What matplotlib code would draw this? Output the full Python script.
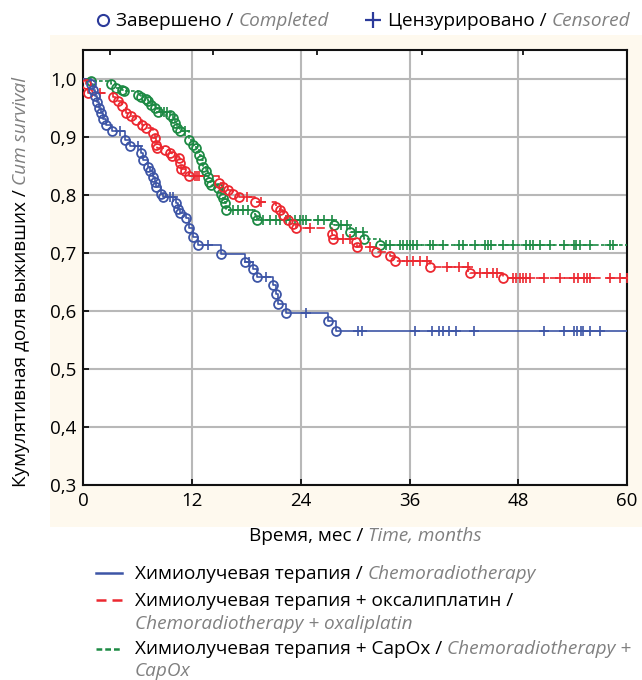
"""
Kaplan-Meier curves for three treatment groups (Cum survival vs months)
"""
import numpy as np
import matplotlib
matplotlib.use("Agg")
from matplotlib import pyplot as plt
from matplotlib.lines import Line2D
from matplotlib.patches import Rectangle

FONT = "Open Sans"
FS = 13.7
TICK_FS = 13.5
GREY = "#808080"
W, H = 642, 680

# --- data ------------------------------------------------------------------
x_ticks = [0, 12, 24, 36, 48, 60]
y_ticks = [0.3, 0.4, 0.5, 0.6, 0.7, 0.8, 0.9, 1.0]
y_tick_labels = ["0,3", "0,4", "0,5", "0,6", "0,7", "0,8", "0,9", "1,0"]

# Chemoradiotherapy
crt_event_t = [0.8, 1.1, 1.3, 1.5, 1.7, 1.9, 2.1, 2.5, 3.1, 4.6, 5.1, 6.4, 6.55, 7.1, 7.3, 7.65,
               7.85, 8.0, 8.6, 8.8, 10.2, 10.4, 10.6, 11.3, 11.7, 12.1, 12.6, 15.2, 17.8, 18.7,
               19.1, 20.9, 21.3, 21.5, 22.4, 27.0, 27.9]
crt_event_s = [0.99, 0.98, 0.97, 0.96, 0.95, 0.94, 0.93, 0.92, 0.909, 0.894, 0.883, 0.871, 0.86,
               0.848, 0.84, 0.831, 0.822, 0.814, 0.802, 0.796, 0.785, 0.776, 0.768, 0.759, 0.742,
               0.727, 0.713, 0.698, 0.684, 0.672, 0.658, 0.644, 0.629, 0.612, 0.597, 0.583, 0.566]
crt_censor = [4.0, 6.0, 9.6, 9.9, 13.7, 18.3, 20.2, 24.6, 30.3, 30.7, 36.6, 38.5, 39.3, 39.7,
              40.3, 41.1, 43.1, 50.8, 53.1, 54.1, 54.5, 54.9, 55.1, 55.9, 57.0]

# Chemoradiotherapy + oxaliplatin
oxa_event_t = [0.3, 0.5, 3.3, 3.8, 4.3, 4.7, 5.2, 5.8, 6.5, 6.9, 7.7, 7.85, 8.0, 8.1, 8.95, 9.5,
               9.8, 10.5, 10.6, 10.8, 11.2, 11.7, 15.0, 15.4, 15.9, 16.5, 17.2, 18.9, 21.3, 21.7,
               22.0, 22.6, 23.1, 23.5, 27.4, 27.5, 30.1, 30.2, 32.3, 33.8, 34.4, 38.2, 42.7, 46.3]
oxa_event_s = [0.99, 0.975, 0.969, 0.961, 0.952, 0.94, 0.935, 0.929, 0.92, 0.915, 0.906, 0.897,
               0.886, 0.88, 0.877, 0.871, 0.866, 0.863, 0.854, 0.845, 0.84, 0.832, 0.82, 0.814,
               0.808, 0.802, 0.796, 0.788, 0.779, 0.773, 0.765, 0.756, 0.749, 0.742, 0.733, 0.724,
               0.719, 0.71, 0.701, 0.694, 0.685, 0.676, 0.665, 0.656]
oxa_censor = [1.8, 12.3, 12.5, 12.7, 18.0, 19.6, 25.0, 28.7, 29.4, 31.6, 35.7, 36.4, 37.1, 37.9,
              40.1, 41.5, 42.5, 43.8, 44.5, 45.2, 45.6, 47.4, 47.8, 48.2, 48.5, 48.9, 49.3, 50.8,
              52.6, 54.1, 54.6, 55.2, 55.6, 55.9, 58.1, 59.2, 60.0]

# Chemoradiotherapy + CapOx
cap_event_t = [0.85, 3.06, 3.6, 4.2, 4.5, 6.0, 6.4, 6.9, 7.1, 7.5, 7.85, 8.2, 9.5, 9.9, 10.1,
               10.3, 10.6, 11.7, 12.1, 12.45, 12.8, 13.0, 13.2, 13.55, 13.7, 13.9, 14.1, 14.8,
               15.2, 15.4, 15.6, 15.75, 18.9, 19.1, 27.6, 29.4, 31.0, 32.7]
cap_event_s = [0.995, 0.99, 0.984, 0.981, 0.978, 0.972, 0.969, 0.964, 0.961, 0.955, 0.949, 0.943,
               0.938, 0.932, 0.923, 0.915, 0.909, 0.894, 0.886, 0.88, 0.868, 0.86, 0.848, 0.84,
               0.831, 0.822, 0.817, 0.811, 0.802, 0.794, 0.785, 0.773, 0.765, 0.756, 0.747, 0.736,
               0.724, 0.713]
cap_censor = [8.6, 8.9, 9.2, 11.2, 16.5, 17.05, 17.6, 18.15, 19.8, 20.6, 21.3, 21.7, 22.4, 22.8,
              23.3, 23.9, 24.2, 24.6, 25.9, 26.5, 27.4, 28.4, 29.1, 30.1, 30.9, 33.4, 33.8, 34.9,
              35.3, 35.7, 36.0, 36.4, 36.8, 38.2, 38.6, 39.7, 41.5, 41.9, 43.2, 44.3, 44.7, 45.0,
              46.3, 47.4, 48.9, 49.3, 49.6, 50.4, 51.5, 53.0, 54.1, 54.4, 54.8, 55.9, 58.1, 58.5]

END_T = 60

BLUE = "#3d55a6"
RED = "#ec2830"
GREEN = "#1d8a44"
RED_DASH = (5, 3.5)
GREEN_DASH = (2.2, 1.4)


def px(x, y):
    """pixel (from top-left) -> figure fraction"""
    return x / W, 1 - y / H


def surv_at(event_t, event_s, t):
    i = np.searchsorted(event_t, t, side="right") - 1
    return 1.0 if i < 0 else event_s[i]


def plot_km(ax, event_t, event_s, censor, color, dashes):
    t = [0] + list(event_t) + [END_T]
    s = [1.0] + list(event_s) + [event_s[-1]]
    line, = ax.step(t, s, where="post", color=color, linewidth=1.2, zorder=3)
    if dashes is not None:
        line.set_dashes(dashes)
    ax.plot(event_t, event_s, linestyle="none", marker="o", markersize=6.4,
            markerfacecolor="none", markeredgecolor=color, markeredgewidth=1.3, zorder=4)
    cs = [surv_at(event_t, event_s, c) for c in censor]
    ax.plot(censor, cs, linestyle="none", marker="+", markersize=7.5,
            markeredgecolor=color, markeredgewidth=1.2, zorder=4)


def rich_text(fig, x, y, parts, rotation=0, center=False):
    """Write consecutive pieces of text with their own style, from pixel x,y (baseline)."""
    r = fig.canvas.get_renderer()
    texts = []
    for s, grey in parts:
        kw = dict(fontsize=FS, family=FONT, va="baseline", ha="left", rotation=rotation,
                  rotation_mode="anchor")
        if grey:
            kw.update(color=GREY, style="italic")
        else:
            kw.update(color="black")
        t = fig.text(0, 0, s, **kw)
        texts.append(t)
    sizes = []
    for t in texts:
        bb = t.get_window_extent(r)
        sizes.append(bb.height if rotation else bb.width)
    if center:
        if rotation:
            y = y + sum(sizes) / 2
        else:
            x = x - sum(sizes) / 2
    for t, size in zip(texts, sizes):
        t.set_position(px(x, y))
        if rotation:
            y -= size
        else:
            x += size


fig = plt.figure(figsize=(W / 100, H / 100), dpi=100)
fig.patch.set_facecolor("white")

# cream panel behind the axes
fig.add_artist(Rectangle(px(50, 527), (W - 50) / W, (527 - 35) / H, transform=fig.transFigure,
                         facecolor="#fef9ee", edgecolor="none", zorder=-1))

ax = fig.add_axes([83.5 / W, 1 - 485 / H, 543.5 / W, 435.5 / H])
ax.set_facecolor("white")
ax.set_xlim(0, 60)
ax.set_ylim(0.3, 1.05)
ax.set_xticks(x_ticks)
ax.set_yticks(y_ticks)
ax.set_yticklabels(y_tick_labels)
ax.grid(True, color="#b8b8b8", linewidth=1.5, zorder=0)
ax.set_axisbelow(True)
ax.tick_params(direction="in", length=4, width=1.2, labelsize=TICK_FS, pad=5,
               top=False, right=False)
for lab in ax.get_xticklabels() + ax.get_yticklabels():
    lab.set_family(FONT)
for sp in ax.spines.values():
    sp.set_linewidth(1.5)
    sp.set_color("#111111")

# odd ticks on top spine
sec = ax.secondary_xaxis("top")
sec.set_xticks([2.9, 14.3, 25.8, 37.4, 48.5])
sec.tick_params(direction="in", length=4, width=1.2, labeltop=False)
sec.spines["top"].set_visible(False)

plot_km(ax, cap_event_t, cap_event_s, cap_censor, GREEN, GREEN_DASH)
plot_km(ax, oxa_event_t, oxa_event_s, oxa_censor, RED, RED_DASH)
plot_km(ax, crt_event_t, crt_event_s, crt_censor, BLUE, None)

# top legend
fig.add_artist(Line2D([103 / W], [1 - 20 / H], marker="o", markersize=8, markerfacecolor="none",
                      markeredgecolor="#2b3a9a", markeredgewidth=1.5, transform=fig.transFigure))
fig.add_artist(Line2D([373 / W], [1 - 20 / H], marker="+", markersize=11,
                      markeredgecolor="#2b3a9a", markeredgewidth=1.6, transform=fig.transFigure))
rich_text(fig, 116, 26, [("Завершено / ", False), ("Completed", True)])
rich_text(fig, 388, 26, [("Цензурировано / ", False), ("Censored", True)])

# axis labels
rich_text(fig, 365, 541, [("Время, мес / ", False), ("Time, months", True)], center=True)
rich_text(fig, 26, 282, [("Кумулятивная доля выживших / ", False), ("Cum survival", True)],
          rotation=90, center=True)

# bottom legend
fig.add_artist(Line2D([96 / W, 122 / W], [1 - 573 / H] * 2, color=BLUE, linewidth=1.8,
                      transform=fig.transFigure))
leg_red = Line2D([96 / W, 122 / W], [1 - 600 / H] * 2, color=RED, linewidth=1.8,
                 transform=fig.transFigure)
leg_red.set_dashes((4.0, 2.4))
fig.add_artist(leg_red)
leg_green = Line2D([96 / W, 122 / W], [1 - 649 / H] * 2, color=GREEN, linewidth=1.8,
                   transform=fig.transFigure)
leg_green.set_dashes((2.3, 1.2))
fig.add_artist(leg_green)

rich_text(fig, 135, 579, [("Химиолучевая терапия / ", False), ("Chemoradiotherapy", True)])
rich_text(fig, 135, 606, [("Химиолучевая терапия + оксалиплатин /", False)])
rich_text(fig, 135, 629, [("Chemoradiotherapy + oxaliplatin", True)])
rich_text(fig, 135, 654, [("Химиолучевая терапия + CapOx / ", False), ("Chemoradiotherapy +", True)])
rich_text(fig, 135, 676, [("CapOx", True)])

fig.savefig("out.png", dpi=100)
